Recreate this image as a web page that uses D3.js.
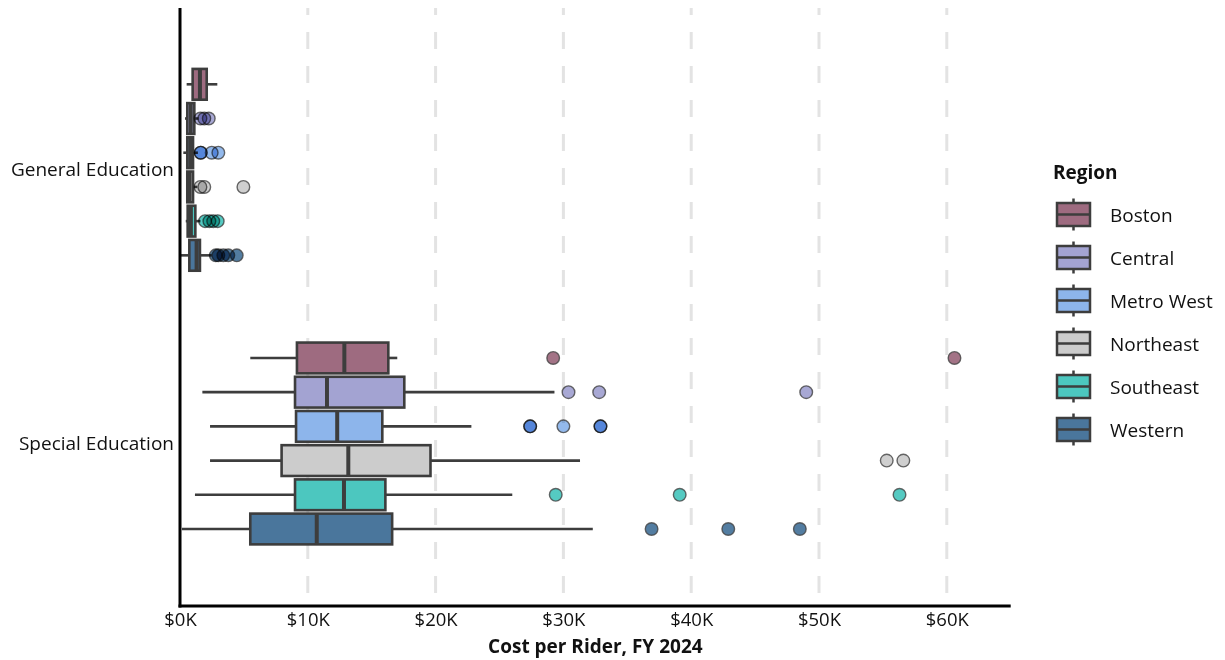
<!DOCTYPE html>
<html>
<head>
<meta charset="utf-8">
<script src="https://cdn.jsdelivr.net/npm/d3@7"></script>
<style>
  body { margin: 0; background: #fff; }
  text { font-family: "Open Sans", Lato, sans-serif; fill: #111; }
</style>
</head>
<body>
<svg id="chart" width="1225" height="660"></svg>
<script>
// values in $K
const categories = ["General Education", "Special Education"];
const regions = ["Boston", "Central", "Metro West", "Northeast", "Southeast", "Western"];
const colors = ["#9e6b80", "#a3a3d2", "#8db5eb", "#cccccc", "#4cc7bf", "#4a769c"];
const xTicks = [0, 10, 20, 30, 40, 50, 60];

// General Education, one entry per region
const genLow = [0.52, 0.39, 0.26, 0.50, 0.45, 0.05];
const genQ1 = [0.99, 0.57, 0.57, 0.57, 0.60, 0.73];
const genMed = [1.56, 0.84, 0.80, 0.75, 0.85, 1.30];
const genQ3 = [2.09, 1.12, 1.02, 1.02, 1.20, 1.56];
const genHigh = [2.92, 1.45, 1.40, 1.35, 1.60, 2.48];
const genOut = [
  [],
  [1.6, 1.9, 2.25],
  [1.62, 1.62, 2.48, 3.0],
  [1.6, 1.9, 4.96],
  [1.96, 2.3, 2.6, 2.95],
  [2.8, 3.0, 3.39, 3.78, 4.44]
];

// Special Education
const spLow = [5.5, 1.75, 2.35, 2.35, 1.17, 0.15];
const spQ1 = [9.15, 9.0, 9.08, 7.95, 9.0, 5.5];
const spMed = [12.86, 11.5, 12.3, 13.17, 12.83, 10.7];
const spQ3 = [16.3, 17.55, 15.83, 19.6, 16.07, 16.6];
const spHigh = [17.0, 29.3, 22.8, 31.3, 26.0, 32.3];
const spOut = [
  [29.2, 60.6],
  [30.4, 32.8, 49.0],
  [27.4, 27.4, 30.0, 32.9, 32.9],
  [55.3, 56.6],
  [29.4, 39.1, 56.3],
  [36.9, 42.9, 48.5]
];

const stats = [
  {low: genLow, q1: genQ1, med: genMed, q3: genQ3, high: genHigh, out: genOut},
  {low: spLow, q1: spQ1, med: spMed, q3: spQ3, high: spHigh, out: spOut}
];

const svg = d3.select("#chart");
const edge = "#3d3d3d";
const fontSize = "19px";

const plotTop = 8, plotBottom = 606;
const x = d3.scaleLinear().domain([0, 65]).range([180, 1010.7]);
const y = d3.scaleBand().domain(categories).range([33, 580.3]);
const hue = d3.scaleBand().domain(regions)
  .range([-0.375 * y.bandwidth(), 0.375 * y.bandwidth()]);
const boxH = hue.bandwidth() * 0.9;

// dashed grid
svg.append("defs").append("clipPath").attr("id", "plot")
  .append("rect").attr("x", 180).attr("y", plotTop)
  .attr("width", 840).attr("height", plotBottom - plotTop);

svg.append("g").attr("clip-path", "url(#plot)")
  .selectAll("line").data(xTicks.slice(1)).enter().append("line")
  .attr("x1", d => x(d)).attr("x2", d => x(d))
  .attr("y1", -2).attr("y2", plotBottom)
  .attr("stroke", "#e3e3e3").attr("stroke-width", 3)
  .attr("stroke-dasharray", "17,17");

// boxes
categories.forEach((cat, ci) => {
  const s = stats[ci];
  regions.forEach((reg, ri) => {
    const cy = y(cat) + y.bandwidth() / 2 + hue(reg) + hue.bandwidth() / 2;
    const g = svg.append("g");
    g.append("line")
      .attr("x1", x(s.low[ri])).attr("x2", x(s.q1[ri]))
      .attr("y1", cy).attr("y2", cy)
      .attr("stroke", edge).attr("stroke-width", 2.6);
    g.append("line")
      .attr("x1", x(s.q3[ri])).attr("x2", x(s.high[ri]))
      .attr("y1", cy).attr("y2", cy)
      .attr("stroke", edge).attr("stroke-width", 2.6);
    g.append("rect")
      .attr("x", x(s.q1[ri])).attr("y", cy - boxH / 2)
      .attr("width", x(s.q3[ri]) - x(s.q1[ri])).attr("height", boxH)
      .attr("fill", colors[ri]).attr("stroke", edge).attr("stroke-width", 2.6);
    g.append("line")
      .attr("x1", x(s.med[ri])).attr("x2", x(s.med[ri]))
      .attr("y1", cy - boxH / 2).attr("y2", cy + boxH / 2)
      .attr("stroke", edge).attr("stroke-width", 4);
    g.selectAll("circle").data(s.out[ri]).enter().append("circle")
      .attr("cx", d => x(d)).attr("cy", cy).attr("r", 6.3)
      .attr("fill", colors[ri]).attr("fill-opacity", 0.95)
      .attr("stroke", "#444").attr("stroke-opacity", 0.8).attr("stroke-width", 1.4)
      .style("mix-blend-mode", "multiply");
  });
});

// axes
const xAxis = svg.append("g").attr("transform", `translate(0,${plotBottom})`)
  .call(d3.axisBottom(x).tickValues(xTicks).tickSize(0).tickPadding(7)
    .tickFormat(d => "$" + d + "K"));
xAxis.select(".domain").remove();
xAxis.selectAll("text").style("font-size", "18.5px").style("font-family", "Open Sans");

const yAxis = svg.append("g").attr("transform", "translate(180,0)")
  .call(d3.axisLeft(y).tickSize(0).tickPadding(6));
yAxis.select(".domain").remove();
yAxis.selectAll("text").style("font-size", fontSize).style("font-family", "Open Sans");

svg.append("line").attr("x1", 180).attr("x2", 180)
  .attr("y1", plotTop).attr("y2", plotBottom + 1.5)
  .attr("stroke", "#000").attr("stroke-width", 3);
svg.append("line").attr("x1", 178.5).attr("x2", x.range()[1])
  .attr("y1", plotBottom).attr("y2", plotBottom)
  .attr("stroke", "#000").attr("stroke-width", 3);

svg.append("text").attr("x", (x.range()[0] + x.range()[1]) / 2).attr("y", 653)
  .attr("text-anchor", "middle").style("font-size", fontSize).style("font-weight", "bold")
  .text("Cost per Rider, FY 2024");

// legend
const legend = svg.append("g");
legend.append("text").attr("x", 1053).attr("y", 179)
  .style("font-size", fontSize).style("font-weight", "bold").text("Region");
regions.forEach((reg, i) => {
  const cy = 214.5 + i * 43;
  legend.append("line").attr("x1", 1073.5).attr("x2", 1073.5)
    .attr("y1", cy - 16).attr("y2", cy + 16)
    .attr("stroke", edge).attr("stroke-width", 2.5);
  legend.append("rect").attr("x", 1057).attr("y", cy - 11.5)
    .attr("width", 33).attr("height", 23)
    .attr("fill", colors[i]).attr("stroke", edge).attr("stroke-width", 2.5);
  legend.append("line").attr("x1", 1057).attr("x2", 1090)
    .attr("y1", cy).attr("y2", cy)
    .attr("stroke", edge).attr("stroke-width", 2.5);
  legend.append("text").attr("x", 1110).attr("y", cy + 7)
    .style("font-size", fontSize).text(reg);
});
</script>
</body>
</html>
